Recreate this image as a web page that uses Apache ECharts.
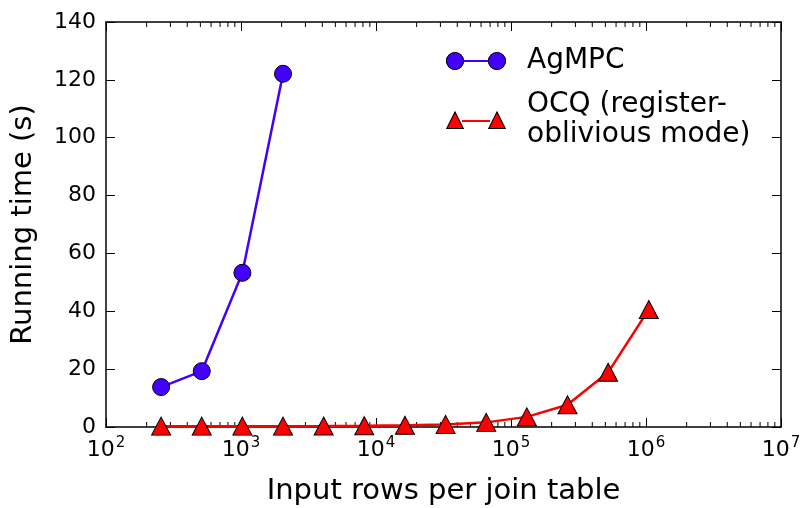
<!DOCTYPE html>
<html>
<head>
<meta charset="utf-8">
<script src="https://cdn.jsdelivr.net/npm/echarts@6/dist/echarts.min.js"></script>
<style>
  html, body { margin: 0; padding: 0; background: #fff; }
  #chart { width: 801px; height: 508px; }
</style>
</head>
<body>
<div id="chart"></div>
<script>
// rows per join table (x) and running time in seconds (y)
var agmpcRows = [256, 512, 1024, 2048]
var agmpcTime = [13.8, 19.3, 53.3, 122.1]

var ocqRows = [256, 512, 1024, 2048, 4096, 8192, 16384, 32768, 65536, 131072, 262144, 524288, 1048576]
var ocqTime = [0.3, 0.3, 0.3, 0.3, 0.35, 0.45, 0.6, 0.9, 1.6, 3.5, 7.7, 18.9, 40.6]

var yTicks = [0, 20, 40, 60, 80, 100, 120, 140]
var xDecades = [2, 3, 4, 5, 6, 7]

var names = ['AgMPC', 'OCQ (register-\noblivious mode)']
var colors = ['#4400ff', '#ff0000']

var font = 'DejaVu Sans'

// minor tick positions of the log axis: 2..9 times every decade
var minorTicks = []
for (var i = 0; i < xDecades.length - 1; i++) {
    for (var m = 2; m <= 9; m++) {
        minorTicks.push([m * Math.pow(10, xDecades[i]), 0])
    }
}

function pairs(xs, ys) {
    return xs.map(function (x, i) { return [x, ys[i]] })
}

// legend icons: marker - line - marker, fill part and black outline part
var iconFill = [
    'path://M0,9a9,9 0 1,0 18,0a9,9 0 1,0 -18,0zM42,9a9,9 0 1,0 18,0a9,9 0 1,0 -18,0zM17,8h26v2h-26z',
    'path://M9,0L18,18L0,18zM51,0L60,18L42,18zM16,9h28v2h-28z'
]
var iconEdge = [
    'path://M0,9a9,9 0 1,0 18,0a9,9 0 1,0 -18,0zM1,9a8,8 0 1,1 16,0a8,8 0 1,1 -16,0zM42,9a9,9 0 1,0 18,0a9,9 0 1,0 -18,0zM43,9a8,8 0 1,1 16,0a8,8 0 1,1 -16,0z',
    'path://M9,0L18,18L0,18zM9,2.24L1.62,17L16.38,17zM51,0L60,18L42,18zM51,2.24L43.62,17L58.38,17z'
]

var chart = echarts.init(document.getElementById('chart'))

var xBase = {
    type: 'log',
    logBase: 10,
    min: Math.pow(10, xDecades[0]),
    max: Math.pow(10, xDecades[xDecades.length - 1]),
    splitLine: { show: false },
    axisLine: { onZero: false, lineStyle: { color: '#000', width: 1.5 } },
    axisTick: { inside: true, length: 9, lineStyle: { color: '#000', width: 1 } }
}

var yBase = {
    type: 'value',
    min: yTicks[0],
    max: yTicks[yTicks.length - 1],
    interval: 20,
    splitLine: { show: false },
    axisLine: { show: true, lineStyle: { color: '#000', width: 1.5 } },
    axisTick: { show: true, inside: true, length: 9, lineStyle: { color: '#000', width: 1 } }
}

function makeLegend(icons, showText) {
    return {
        orient: 'vertical',
        left: 446,
        top: 46,
        padding: 0,
        itemWidth: 60,
        itemHeight: 18,
        itemGap: 14,
        selectedMode: false,
        data: names.map(function (n, k) {
            return {
                name: n,
                icon: icons[k],
                itemStyle: { color: showText ? colors[k] : '#000', borderWidth: 0 }
            }
        }),
        formatter: showText ? null : function (n) { return n.indexOf('\n') >= 0 ? ' \n ' : ' ' },
        textStyle: { fontFamily: font, fontSize: 28, color: '#000', lineHeight: 30, padding: [0, 0, 0, 16] }
    }
}

var option = {
    backgroundColor: '#fff',
    animation: false,
    textStyle: { fontFamily: font },
    grid: { left: 106, right: 20, top: 22, bottom: 81, outerBoundsMode: 'none', containLabel: false },
    legend: [makeLegend(iconFill, true), makeLegend(iconEdge, false)],
    xAxis: [
        Object.assign({}, xBase, {
            position: 'bottom',
            name: 'Input rows per join table',
            nameLocation: 'middle',
            nameGap: 50,
            nameTextStyle: { fontFamily: font, fontSize: 29, color: '#000' },
            axisLabel: {
                margin: 9,
                color: '#000',
                formatter: function (v) {
                    return '{b|10}{s|' + Math.round(Math.log10(v)) + '}'
                },
                rich: {
                    b: { fontFamily: font, fontSize: 22, color: '#000' },
                    s: { fontFamily: font, fontSize: 15, color: '#000', padding: [0, 0, 14, 1] }
                }
            }
        }),
        Object.assign({}, xBase, {
            position: 'top',
            axisLabel: { show: false }
        })
    ],
    yAxis: [
        Object.assign({}, yBase, {
            position: 'left',
            name: 'Running time (s)',
            nameLocation: 'middle',
            nameGap: 68,
            nameTextStyle: { fontFamily: font, fontSize: 29, color: '#000' },
            axisLabel: { margin: 10, color: '#000', fontFamily: font, fontSize: 22 }
        }),
        Object.assign({}, yBase, {
            position: 'right',
            axisLabel: { show: false }
        })
    ],
    series: [
        {
            name: names[0],
            type: 'line',
            data: pairs(agmpcRows, agmpcTime),
            symbol: 'circle',
            symbolSize: 17,
            lineStyle: { color: colors[0], width: 2.5 },
            itemStyle: { color: colors[0], borderColor: '#000', borderWidth: 1 },
            z: 3
        },
        {
            name: names[1],
            type: 'line',
            data: pairs(ocqRows, ocqTime),
            symbol: 'triangle',
            symbolSize: [19, 18],
            lineStyle: { color: colors[1], width: 2.5 },
            itemStyle: { color: colors[1], borderColor: '#000', borderWidth: 1 },
            z: 3
        },
        {
            // log-style minor ticks on bottom and top axes
            name: 'minor',
            type: 'custom',
            silent: true,
            clip: false,
            z: 1,
            data: minorTicks,
            encode: { x: 0, y: 1 },
            renderItem: function (params, api) {
                var x = api.coord([api.value(0), 0])[0]
                var cs = params.coordSys
                var st = { stroke: '#000', lineWidth: 1 }
                return {
                    type: 'group',
                    children: [
                        { type: 'line', shape: { x1: x, y1: cs.y + cs.height, x2: x, y2: cs.y + cs.height - 5 }, style: st },
                        { type: 'line', shape: { x1: x, y1: cs.y, x2: x, y2: cs.y + 5 }, style: st }
                    ]
                }
            }
        }
    ]
}

chart.setOption(option)
</script>
</body>
</html>
